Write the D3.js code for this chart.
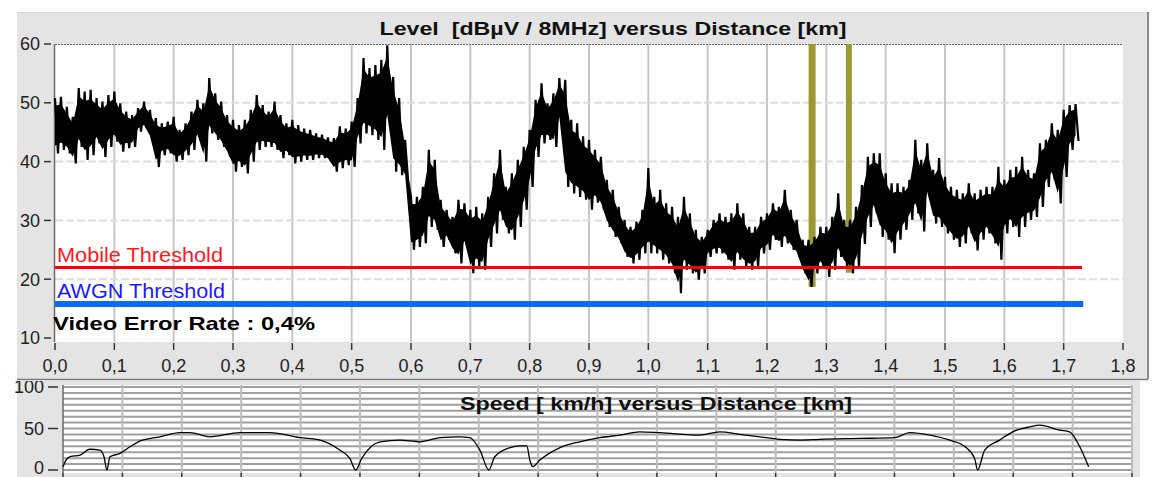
<!DOCTYPE html>
<html><head><meta charset="utf-8">
<script src="https://cdn.jsdelivr.net/npm/d3@7"></script>
<style>html,body{margin:0;padding:0;background:#fff;overflow:hidden}</style>
</head><body>
<svg id="c" width="1152" height="477"></svg>
<script>
// ---------- data ----------
const levelStart = 0.0, levelStep = 0.01;   // km
const levelHigh = [
 50.8,51.0,49.3,47.6,52.5,51.9,52.2,50.8,50.2,51.3,
 51.9,49.9,48.5,47.9,49.1,50.2,48.8,47.4,46.5,46.8,
 47.6,45.4,46.5,48.5,50.5,49.9,54.2,51.6,50.2,47.9,
 47.1,46.2,47.1,48.8,51.3,49.6,48.5,50.2,47.9,46.5,
 47.1,46.2,45.6,45.4,44.8,44.6,44.1,44.0,46.0,45.6,
 46.8,50.8,57.6,55.9,56.4,57.3,59.8,54.4,50.8,43.7,
 34.0,34.0,35.7,42.0,40.3,33.5,31.8,30.6,33.5,32.9,
 31.8,32.3,31.2,34.0,38.0,42.0,35.7,38.0,40.3,42.5,
 45.4,50.5,53.3,49.9,51.6,54.2,53.9,47.1,46.5,44.3,
 43.7,42.0,40.8,36.9,35.2,32.3,30.1,28.9,29.8,31.8,
 38.9,34.0,35.2,32.9,32.3,30.6,34.0,31.2,28.4,27.2,
 28.4,30.1,31.2,30.6,31.2,32.9,31.2,28.9,28.9,30.6,
 31.2,32.9,32.3,35.2,31.8,30.1,26.7,26.7,27.2,28.9,
 28.9,30.6,34.6,30.1,30.1,32.3,36.0,40.8,41.4,41.4,
 38.0,36.3,36.3,35.7,36.9,43.7,40.3,43.1,38.6,40.6,
 37.4,35.7,35.2,34.6,36.3,34.6,35.2,35.7,35.7,39.1,
 36.9,38.6,39.1,40.8,38.6,38.0,43.1,43.7,46.5,45.4,
 48.8,49.6,49.8
];
const levelLow = [
 41.4,42.0,41.4,39.7,42.5,40.3,41.1,43.1,40.8,42.5,
 43.4,41.7,42.3,42.5,45.1,45.6,43.7,39.1,41.1,41.4,
 40.0,40.3,41.1,42.0,43.7,40.0,44.8,43.7,42.5,40.8,
 38.3,39.1,38.0,40.0,42.0,42.5,42.5,42.0,40.6,41.1,
 39.7,40.0,40.3,40.3,40.6,40.6,40.0,38.3,38.9,39.4,
 39.1,43.1,44.8,44.5,43.7,42.0,46.0,38.3,37.7,36.9,
 25.0,25.5,26.1,28.9,28.4,25.5,26.7,24.4,22.7,25.5,
 21.0,22.1,21.6,25.5,27.8,30.1,27.8,26.7,28.9,31.8,
 35.7,40.8,43.1,43.7,42.5,46.5,35.7,34.6,34.0,33.5,
 31.8,33.0,31.8,28.9,27.2,26.1,23.8,22.7,23.3,24.4,
 24.4,24.4,23.3,22.7,21.0,17.6,21.6,21.0,19.9,21.0,
 23.8,24.4,24.4,23.3,21.6,23.3,22.1,21.6,22.1,24.4,
 25.0,26.7,25.5,26.1,25.0,23.8,21.0,18.7,21.0,22.1,
 20.4,21.6,23.8,22.1,21.0,22.1,26.0,28.9,31.2,27.2,
 26.7,24.4,26.7,28.4,30.1,31.2,28.1,33.5,29.5,28.9,
 27.8,26.7,25.5,26.1,27.8,24.9,26.7,27.8,26.1,23.3,
 27.8,28.9,27.2,28.9,30.1,30.6,32.3,35.7,36.9,32.9,
 37.4,42.0,43.5
];
const speedKm = [0.000,0.005,0.012,0.029,0.045,0.062,0.069,0.074,0.079,0.096,0.113,0.130,0.163,0.197,0.214,0.247,0.298,0.348,0.399,0.433,0.466,0.483,0.493,0.503,0.534,0.567,0.601,0.635,0.668,0.685,0.702,0.717,0.727,0.753,0.769,0.781,0.786,0.791,0.803,0.837,0.870,0.904,0.938,0.971,1.005,1.072,1.106,1.140,1.173,1.207,1.241,1.274,1.342,1.401,1.426,1.460,1.493,1.519,1.535,1.540,1.552,1.577,1.599,1.628,1.645,1.678,1.695,1.712,1.727];
const speedVal = [4,12,16,18,25,24,16,0,16,20,28,35,40,45,45,40,45,45,39,36,24,14,0,14,34,36,34,39,40,39,24,0,16,27,29,29,12,4,12,27,34,39,42,46,45,42,46,43,40,37,36,37,38,39,45,42,36,28,14,0,24,36,46,52,54,48,46,28,4];
const xTicks = [0,0.1,0.2,0.3,0.4,0.5,0.6,0.7,0.8,0.9,1.0,1.1,1.2,1.3,1.4,1.5,1.6,1.7,1.8];
const xTickLabels = ["0,0","0,1","0,2","0,3","0,4","0,5","0,6","0,7","0,8","0,9","1,0","1,1","1,2","1,3","1,4","1,5","1,6","1,7","1,8"];
const levelTicks = [60,50,40,30,20,10];
const levelGrid = [50,40,30,20];
const speedTicks = [100,50,0];
const thresholdNames = ["Mobile Threshold","AWGN Threshold"];
const thresholdValues = [22,15.8];
const thresholdEndKm = [1.731,1.733];
const markerKm = [1.276,1.338];
const markerBottom = [18.7,21.1];
const errorRateText = "Video Error Rate : 0,4%";
const levelTitle = "Level \u00a0[dB\u00b5V / 8MHz] versus Distance [km]";
const speedTitle = "Speed [ km/h] versus Distance [km]";

// ---------- drawing ----------
const svg = d3.select("#c");
const FONT = "'Liberation Sans', Arial, sans-serif";
svg.append("rect").attr("width",1152).attr("height",477).attr("fill","#fff");

const xT = d3.scaleLinear().domain([0,1.8]).range([55,1123]);
const yT = d3.scaleLinear().domain([10,60]).range([338,44]);
const xB = d3.scaleLinear().domain([0,1.8]).range([63,1132]);
const yB = d3.scaleLinear().domain([0,100]).range([470,387]);

// top panel background
svg.append("rect").attr("x",17).attr("y",12).attr("width",1131).attr("height",367).attr("fill","#e4e4e4");
svg.append("line").attr("x1",17).attr("x2",1148).attr("y1",12.5).attr("y2",12.5).attr("stroke","#c8c8c8").attr("stroke-dasharray","1,1");
svg.append("line").attr("x1",1148).attr("x2",1148).attr("y1",12).attr("y2",379).attr("stroke","#8a8a8a").attr("stroke-width",2);
svg.append("rect").attr("x",55).attr("y",44).attr("width",1068).attr("height",298).attr("fill","#fff");

// top grid
const gT = svg.append("g");
gT.selectAll(".vg").data(xTicks.filter(d=>d>0 && d<1.8)).join("line")
  .attr("x1",d=>xT(d)).attr("x2",d=>xT(d)).attr("y1",44).attr("y2",342)
  .attr("stroke","#c6c6c6").attr("stroke-width",2);
gT.selectAll(".hg").data(levelGrid).join("line")
  .attr("x1",55).attr("x2",1123).attr("y1",d=>yT(d)).attr("y2",d=>yT(d))
  .attr("stroke","#dedede").attr("stroke-width",2).attr("stroke-dasharray","8,3");
svg.append("line").attr("x1",55).attr("x2",1123).attr("y1",44.5).attr("y2",44.5)
  .attr("stroke","#6a6a6a").attr("stroke-dasharray","2,1");
svg.append("line").attr("x1",54.5).attr("x2",54.5).attr("y1",44).attr("y2",342)
  .attr("stroke","#6a6a6a").attr("stroke-width",1.5);

// top axes
svg.selectAll(".yl").data(levelTicks).join("text")
  .attr("x",40).attr("y",d=>yT(d)).attr("dy","0.36em").attr("text-anchor","end")
  .attr("font-family",FONT).attr("font-size",18).attr("fill","#222").text(d=>d);
svg.selectAll(".yt").data(levelTicks).join("line")
  .attr("x1",44).attr("x2",51).attr("y1",d=>yT(d)).attr("y2",d=>yT(d))
  .attr("stroke","#333").attr("stroke-width",1.5);
svg.selectAll(".xt").data(xTicks).join("line")
  .attr("x1",d=>xT(d)).attr("x2",d=>xT(d)).attr("y1",343).attr("y2",350)
  .attr("stroke","#333").attr("stroke-width",1.5);
svg.selectAll(".xl").data(xTicks).join("text")
  .attr("x",d=>xT(d)).attr("y",372).attr("text-anchor","middle")
  .attr("font-family",FONT).attr("font-size",18).attr("fill","#222").text((d,i)=>xTickLabels[i]);

// title
svg.append("text").attr("x",613).attr("y",35).attr("text-anchor","middle")
  .attr("font-family",FONT).attr("font-size",19).attr("font-weight","bold").attr("fill","#111")
  .attr("textLength",467).attr("lengthAdjust","spacingAndGlyphs").text(levelTitle);

// markers
svg.selectAll(".mk").data(markerKm).join("rect")
  .attr("x",(d,i)=>xT(d)-(i===0?3.5:3)).attr("width",(d,i)=>i===0?7:6)
  .attr("y",44).attr("height",(d,i)=>yT(markerBottom[i])-44)
  .attr("fill","#9b9933");

// level trace
const lv = levelHigh.map((h,i)=>({km: levelStart + i*levelStep, hi: h, lo: levelLow[i]}));
const core = 0.14;
svg.append("path").datum(lv)
  .attr("d", d3.area().x(d=>xT(d.km))
     .y0(d=>yT(d.lo + core*(d.hi-d.lo))).y1(d=>yT(d.hi - core*(d.hi-d.lo))))
  .attr("fill","#000");
const zig = [];
lv.forEach(d=>{ zig.push([d.km, d.hi]); zig.push([d.km + levelStep/2, d.lo]); });
svg.append("path").datum(zig)
  .attr("d", d3.line().x(d=>xT(d[0])).y(d=>yT(d[1])))
  .attr("fill","none").attr("stroke","#000").attr("stroke-width",2.2);

// thresholds
const thrColors = ["#ff0000","#0a6cf5"];
const thrWidths = [3,6];
const thrTextColors = ["#ff1a1a","#1a1aff"];
svg.selectAll(".thr").data(thresholdValues).join("line")
  .attr("x1",xT(0)).attr("x2",(d,i)=>xT(thresholdEndKm[i]))
  .attr("y1",d=>yT(d)).attr("y2",d=>yT(d))
  .attr("stroke",(d,i)=>thrColors[i]).attr("stroke-width",(d,i)=>thrWidths[i]);
svg.selectAll(".thrt").data(thresholdNames).join("text")
  .attr("x",57).attr("y",(d,i)=>yT(thresholdValues[i]) - (i===0?5:6))
  .attr("font-family",FONT).attr("font-size",20).attr("fill",(d,i)=>thrTextColors[i])
  .attr("textLength",(d,i)=>i===0?166:168).attr("lengthAdjust","spacingAndGlyphs").text(d=>d);
svg.append("text").attr("x",53).attr("y",330)
  .attr("font-family",FONT).attr("font-size",19).attr("font-weight","bold").attr("fill","#000")
  .attr("textLength",262).attr("lengthAdjust","spacingAndGlyphs").text(errorRateText);

// ---------- bottom panel ----------
svg.append("defs").append("clipPath").attr("id","bclip")
  .append("rect").attr("x",0).attr("y",381).attr("width",1152).attr("height",96);
const gB = svg.append("g").attr("clip-path","url(#bclip)");
gB.append("rect").attr("x",17).attr("y",379).attr("width",1123).attr("height",98).attr("fill","#e4e4e4");
gB.append("rect").attr("x",63).attr("y",385).attr("width",1069).attr("height",88).attr("fill","#fff");
const speedGrid = d3.range(0,15).map(k=>k*100/14);
gB.selectAll(".sg").data(speedGrid).join("line")
  .attr("x1",63).attr("x2",1132).attr("y1",d=>yB(d)).attr("y2",d=>yB(d))
  .attr("stroke","#a0a0a0").attr("stroke-width",2);
gB.selectAll(".svg").data(xTicks.filter(d=>d>0)).join("line")
  .attr("x1",d=>xB(d)).attr("x2",d=>xB(d)).attr("y1",385).attr("y2",473)
  .attr("stroke","#bdbdbd").attr("stroke-width",2);
gB.append("line").attr("x1",63).attr("x2",63).attr("y1",385).attr("y2",473).attr("stroke","#6a6a6a").attr("stroke-width",1.5);
gB.selectAll(".sxt").data(xTicks).join("line")
  .attr("x1",d=>xB(d)).attr("x2",d=>xB(d)).attr("y1",473).attr("y2",477)
  .attr("stroke","#333").attr("stroke-width",1.5);
gB.selectAll(".syl").data(speedTicks).join("text")
  .attr("x",44).attr("y",d=>yB(d) - (d===0?2:0)).attr("dy","0.36em").attr("text-anchor","end")
  .attr("font-family",FONT).attr("font-size",18).attr("fill","#222").text(d=>d);
gB.selectAll(".syt").data(speedTicks).join("line")
  .attr("x1",48).attr("x2",58).attr("y1",d=>yB(d)).attr("y2",d=>yB(d))
  .attr("stroke","#333").attr("stroke-width",1.5);
gB.append("text").attr("x",656).attr("y",410).attr("text-anchor","middle")
  .attr("font-family",FONT).attr("font-size",19).attr("font-weight","bold").attr("fill","#111")
  .attr("textLength",392).attr("lengthAdjust","spacingAndGlyphs").text(speedTitle);
const sp = speedKm.map((k,i)=>[k, speedVal[i]]);
gB.append("path").datum(sp)
  .attr("d", d3.line().curve(d3.curveMonotoneX).x(d=>xB(d[0])).y(d=>yB(d[1])))
  .attr("fill","none").attr("stroke","#000").attr("stroke-width",1.3);
svg.append("line").attr("x1",17).attr("x2",1148).attr("y1",379.5).attr("y2",379.5).attr("stroke","#7a7a7a").attr("stroke-width",1.5);
</script>
</body></html>
